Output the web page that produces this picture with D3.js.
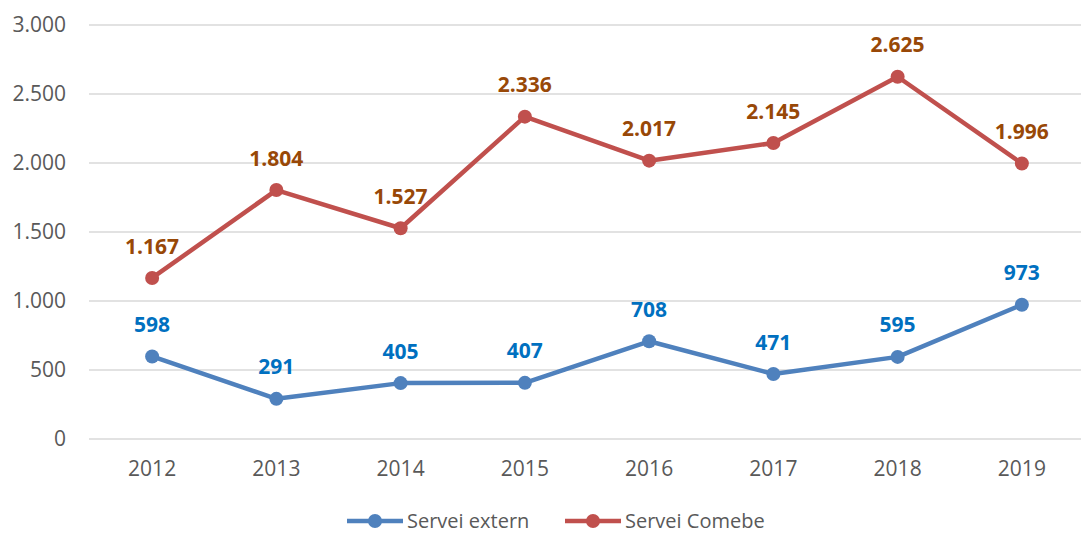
<!DOCTYPE html>
<html>
<head>
<meta charset="utf-8">
<script src="https://cdn.jsdelivr.net/npm/d3@7"></script>
<style>
  body { margin: 0; background: #fff; }
  svg { display: block; font-family: "Open Sans", sans-serif; }
</style>
</head>
<body>
<svg id="chart" width="1081" height="534"></svg>
<script>
const years = ["2012", "2013", "2014", "2015", "2016", "2017", "2018", "2019"];
const serveiExtern = [598, 291, 405, 407, 708, 471, 595, 973];
const serveiComebe = [1167, 1804, 1527, 2336, 2017, 2145, 2625, 1996];
const yTicks = [0, 500, 1000, 1500, 2000, 2500, 3000];

const series = [
  { name: "Servei extern", values: serveiExtern, color: "#4F81BD", label: "#0070C0" },
  { name: "Servei Comebe", values: serveiComebe, color: "#C0504D", label: "#984807" }
];

const svg = d3.select("#chart");
const plot = { left: 89, right: 1081, top: 25, bottom: 439 };

const x = d3.scaleBand().domain(years).range([90, 1084]);
const y = d3.scaleLinear().domain([0, 3000]).range([plot.bottom, plot.top]);

// thousands separator is a dot
const fmt = d3.formatLocale({ decimal: ",", thousands: ".", grouping: [3], currency: ["", "€"] }).format(",d");

// gridlines
svg.append("g")
  .selectAll("line")
  .data(yTicks)
  .join("line")
  .attr("x1", plot.left)
  .attr("x2", plot.right)
  .attr("y1", d => y(d))
  .attr("y2", d => y(d))
  .attr("stroke", "#D9D9D9")
  .attr("stroke-width", 1.5);

// y axis labels
const yAxis = svg.append("g")
  .attr("transform", "translate(66,0)")
  .call(d3.axisLeft(y).tickValues(yTicks).tickFormat(fmt).tickSize(0).tickPadding(0));
yAxis.select(".domain").remove();
yAxis.selectAll("text")
  .attr("font-family", "Open Sans")
  .attr("font-size", 21)
  .attr("fill", "#595959");

// x axis labels
const xAxis = svg.append("g")
  .attr("transform", `translate(0,${plot.bottom})`)
  .call(d3.axisBottom(x).tickSize(0).tickPadding(22));
xAxis.select(".domain").remove();
xAxis.selectAll("text")
  .attr("font-family", "Open Sans")
  .attr("font-size", 21)
  .attr("fill", "#595959");

const cx = d => x(d) + x.bandwidth() / 2;
const line = d3.line()
  .x((d, i) => cx(years[i]))
  .y(d => y(d));

series.forEach(s => {
  const g = svg.append("g");
  g.append("path")
    .datum(s.values)
    .attr("d", line)
    .attr("fill", "none")
    .attr("stroke", s.color)
    .attr("stroke-width", 4.5)
    .attr("stroke-linejoin", "round");
  g.selectAll("circle")
    .data(s.values)
    .join("circle")
    .attr("cx", (d, i) => cx(years[i]))
    .attr("cy", d => y(d))
    .attr("r", 7)
    .attr("fill", s.color);
  g.selectAll("text")
    .data(s.values)
    .join("text")
    .attr("x", (d, i) => cx(years[i]))
    .attr("y", d => y(d) - 32)
    .attr("dy", "0.36em")
    .attr("text-anchor", "middle")
    .attr("font-size", 21)
    .attr("font-weight", "bold")
    .attr("fill", s.label)
    .text(d => fmt(d));
});

// legend
const legendX = [347, 565];
const legend = svg.append("g")
  .selectAll("g")
  .data(series)
  .join("g")
  .attr("transform", (d, i) => `translate(${legendX[i]},521)`);
legend.append("line")
  .attr("x1", 0).attr("x2", 56)
  .attr("stroke", d => d.color)
  .attr("stroke-width", 4.5);
legend.append("circle")
  .attr("cx", 28).attr("r", 7)
  .attr("fill", d => d.color);
legend.append("text")
  .attr("x", 60)
  .attr("dy", "0.36em")
  .attr("font-size", 20)
  .attr("fill", "#595959")
  .text(d => d.name);
</script>
</body>
</html>
